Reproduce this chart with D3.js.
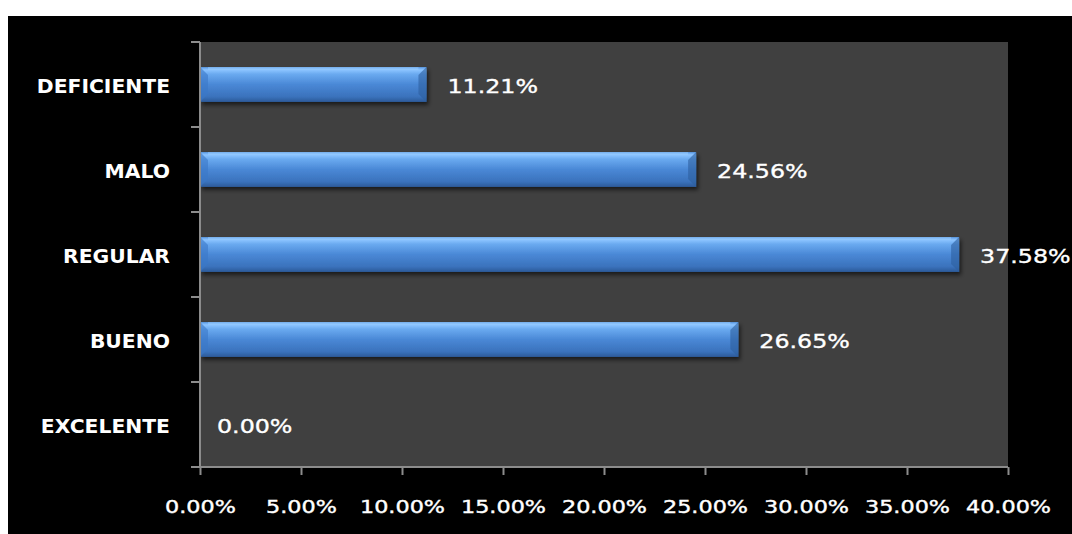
<!DOCTYPE html>
<html><head><meta charset="utf-8">
<script src="https://cdn.jsdelivr.net/npm/d3@7"></script>
<style>html,body{margin:0;padding:0;background:#fff;}svg{display:block;}</style>
</head><body>
<script>
const categories = ["DEFICIENTE","MALO","REGULAR","BUENO","EXCELENTE"];
const values = [11.21, 24.56, 37.58, 26.65, 0.00];
const tickValues = [0,5,10,15,20,25,30,35,40];

const W = 1072, H = 534;
const svg = d3.select("body").append("svg").attr("width", W).attr("height", H);
const defs = svg.append("defs");
const g1 = defs.append("linearGradient").attr("id","barg").attr("x1",0).attr("y1",0).attr("x2",0).attr("y2",1);
[[0,"#5a9ae6"],[0.08,"#8cc4ff"],[0.2,"#6aaaf0"],[0.5,"#4a88d6"],[0.85,"#3a72bc"],[1,"#2c5a98"]].forEach(s=>g1.append("stop").attr("offset",s[0]).attr("stop-color",s[1]));
const f = defs.append("filter").attr("id","sh").attr("x","-5%").attr("y","-20%").attr("width","110%").attr("height","160%");
f.append("feGaussianBlur").attr("in","SourceAlpha").attr("stdDeviation",2);
f.append("feOffset").attr("dx",2).attr("dy",3).attr("result","b");
f.append("feComponentTransfer").append("feFuncA").attr("type","linear").attr("slope",0.6);
const fm = f.append("feMerge"); fm.append("feMergeNode"); fm.append("feMergeNode").attr("in","SourceGraphic");

svg.append("rect").attr("x",8).attr("y",16).attr("width",W-8).attr("height",H-16).attr("fill","#000");

const m = {left:200, right:1008, top:42, bottom:467};
const x = d3.scaleLinear().domain([0,40]).range([m.left, m.right]);
const y = d3.scaleBand().domain(categories).range([m.top, m.bottom]).paddingInner(0.59).paddingOuter(0.295);
const yb = d3.scaleBand().domain(categories).range([m.top, m.bottom]);

svg.append("rect").attr("x",m.left).attr("y",m.top).attr("width",m.right-m.left).attr("height",m.bottom-m.top).attr("fill","#404040");

const font = "'DejaVu Sans', Verdana, sans-serif";

// bars
const bars = svg.append("g").selectAll("g").data(categories.map((c,i)=>({c,v:values[i]}))).join("g").filter(d=>d.v>0);
bars.append("rect").attr("x",x(0)).attr("y",d=>y(d.c)).attr("width",d=>x(d.v)-x(0)).attr("height",y.bandwidth())
  .attr("fill","url(#barg)").attr("filter","url(#sh)");
const bv = 8;
bars.append("path").attr("d",d=>{const x0=x(0),y0=y(d.c),h=y.bandwidth();return `M${x0},${y0}L${x0+bv},${y0+bv}L${x0+bv},${y0+h-bv}L${x0},${y0+h}Z`;}).attr("fill","#3a78c8").attr("opacity",0.6);
bars.append("path").attr("d",d=>{const x1=x(d.v),y0=y(d.c),h=y.bandwidth();return `M${x1},${y0}L${x1-bv},${y0+bv}L${x1-bv},${y0+h-bv}L${x1},${y0+h}Z`;}).attr("fill","#2d5f9e").attr("opacity",0.6);
bars.append("rect").attr("x",d=>x(0)+bv).attr("y",d=>y(d.c)).attr("width",d=>x(d.v)-x(0)-2*bv).attr("height",3).attr("fill","#9ccfff").attr("opacity",0.5);

// value labels
svg.append("g").selectAll("text").data(categories.map((c,i)=>({c,v:values[i]}))).join("text")
  .attr("transform",d=>`translate(${x(d.v)+(d.v>0?21:17)},${yb(d.c)+yb.bandwidth()/2+2}) scale(1.25,1)`)
  .attr("dy","0.36em").attr("fill","#fff").attr("stroke","#fff").attr("stroke-width",0.35)
  .attr("font-family",font).attr("font-size",19)
  .text(d=>d.v.toFixed(2)+"%");

// axes
const xAxis = d3.axisBottom(x).tickValues(tickValues).tickFormat(d=>d.toFixed(2)+"%").tickSize(8).tickPadding(25);
const gx = svg.append("g").attr("transform",`translate(0,${m.bottom})`).call(xAxis);
gx.select(".domain").attr("stroke","#8c8c8c").attr("stroke-width",2).attr("d",`M${m.left},0H${m.right}`);
gx.selectAll(".tick line").attr("stroke","#8c8c8c").attr("stroke-width",2);
gx.selectAll("text").attr("fill","#fff").attr("stroke","#fff").attr("stroke-width",0.4)
  .attr("font-family",font).attr("font-size",18).attr("transform","scale(1.24,1)");

const gy = svg.append("g").attr("transform",`translate(${m.left},0)`);
gy.append("line").attr("x1",0).attr("x2",0).attr("y1",m.top).attr("y2",m.bottom).attr("stroke","#8c8c8c").attr("stroke-width",2);
const bounds = categories.map(c=>yb(c)).concat([m.bottom]);
gy.selectAll("line.t").data(bounds).join("line").attr("class","t").attr("x1",-9).attr("x2",0).attr("y1",d=>d).attr("y2",d=>d).attr("stroke","#8c8c8c").attr("stroke-width",2);
gy.selectAll("text").data(categories).join("text").attr("transform",d=>`translate(-30,${yb(d)+yb.bandwidth()/2+2}) scale(1.07,1)`).attr("dy","0.36em")
  .attr("text-anchor","end").attr("fill","#fff").attr("font-family",font).attr("font-size",19).attr("font-weight","bold").text(d=>d);
</script>
</body></html>
